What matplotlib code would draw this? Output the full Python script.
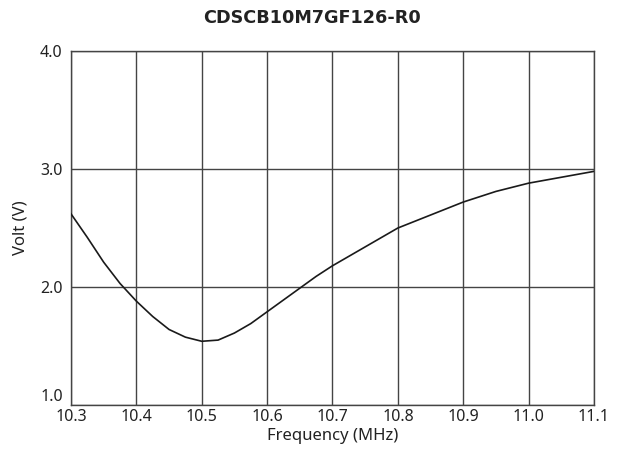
import matplotlib
matplotlib.use("Agg")
import matplotlib.pyplot as plt

plt.rcParams['font.family'] = ['Noto Sans', 'DejaVu Sans']

title = "CDSCB10M7GF126-R0"
freq = [10.30, 10.325, 10.35, 10.375, 10.40, 10.425, 10.45, 10.475, 10.50, 10.525, 10.55,
        10.575, 10.60, 10.625, 10.65, 10.675, 10.70, 10.75, 10.80, 10.85, 10.90, 10.95,
        11.00, 11.05, 11.10]
volt = [2.62, 2.42, 2.21, 2.03, 1.88, 1.75, 1.64, 1.575, 1.54, 1.55, 1.61,
        1.69, 1.79, 1.89, 1.99, 2.09, 2.18, 2.34, 2.50, 2.61, 2.72, 2.81,
        2.88, 2.93, 2.98]
xticks = [10.3, 10.4, 10.5, 10.6, 10.7, 10.8, 10.9, 11.0, 11.1]
xticklabels = ["10.3", "10.4", "10.5", "10.6", "10.7", "10.8", "10.9", "11.0", "11.1"]
yticks = [1.0, 2.0, 3.0, 4.0]
yticklabels = ["1.0", "2.0", "3.0", "4.0"]

fig = plt.figure(figsize=(6.24, 4.53), dpi=100)
ax = fig.add_axes([71/624, 1 - 405/453, (594-71)/624, (405-51)/453])
ax.plot(freq, volt, color='#1a1a1a', linewidth=1.2, zorder=3)
ax.set_xlim(10.3, 11.1)
ax.set_ylim(1.0, 4.0)
ax.set_xticks(xticks)
ax.set_xticklabels(xticklabels)
ax.set_yticks(yticks)
ax.set_yticklabels(yticklabels)
ax.grid(True, color='#444444', linewidth=1.0)
ax.tick_params(length=0, labelsize=11.5, colors='#222222')
ax.tick_params(axis='x', pad=3)
ax.tick_params(axis='y', pad=6)
ylabs = ax.get_yticklabels()
ylabs[0].set_va('bottom')
for s in ax.spines.values():
    s.set_color('#444444')
    s.set_linewidth(1.0)
ax.set_xlabel("Frequency (MHz)", fontsize=12, color='#222222', labelpad=2)
ax.set_ylabel("Volt (V)", fontsize=12, color='#222222', labelpad=8)
fig.text(0.5, 1 - 18/453, title, ha='center', va='center', fontsize=12.7,
         fontweight='bold', family='DejaVu Sans', color='#222222')
fig.savefig("out.png", dpi=100)
